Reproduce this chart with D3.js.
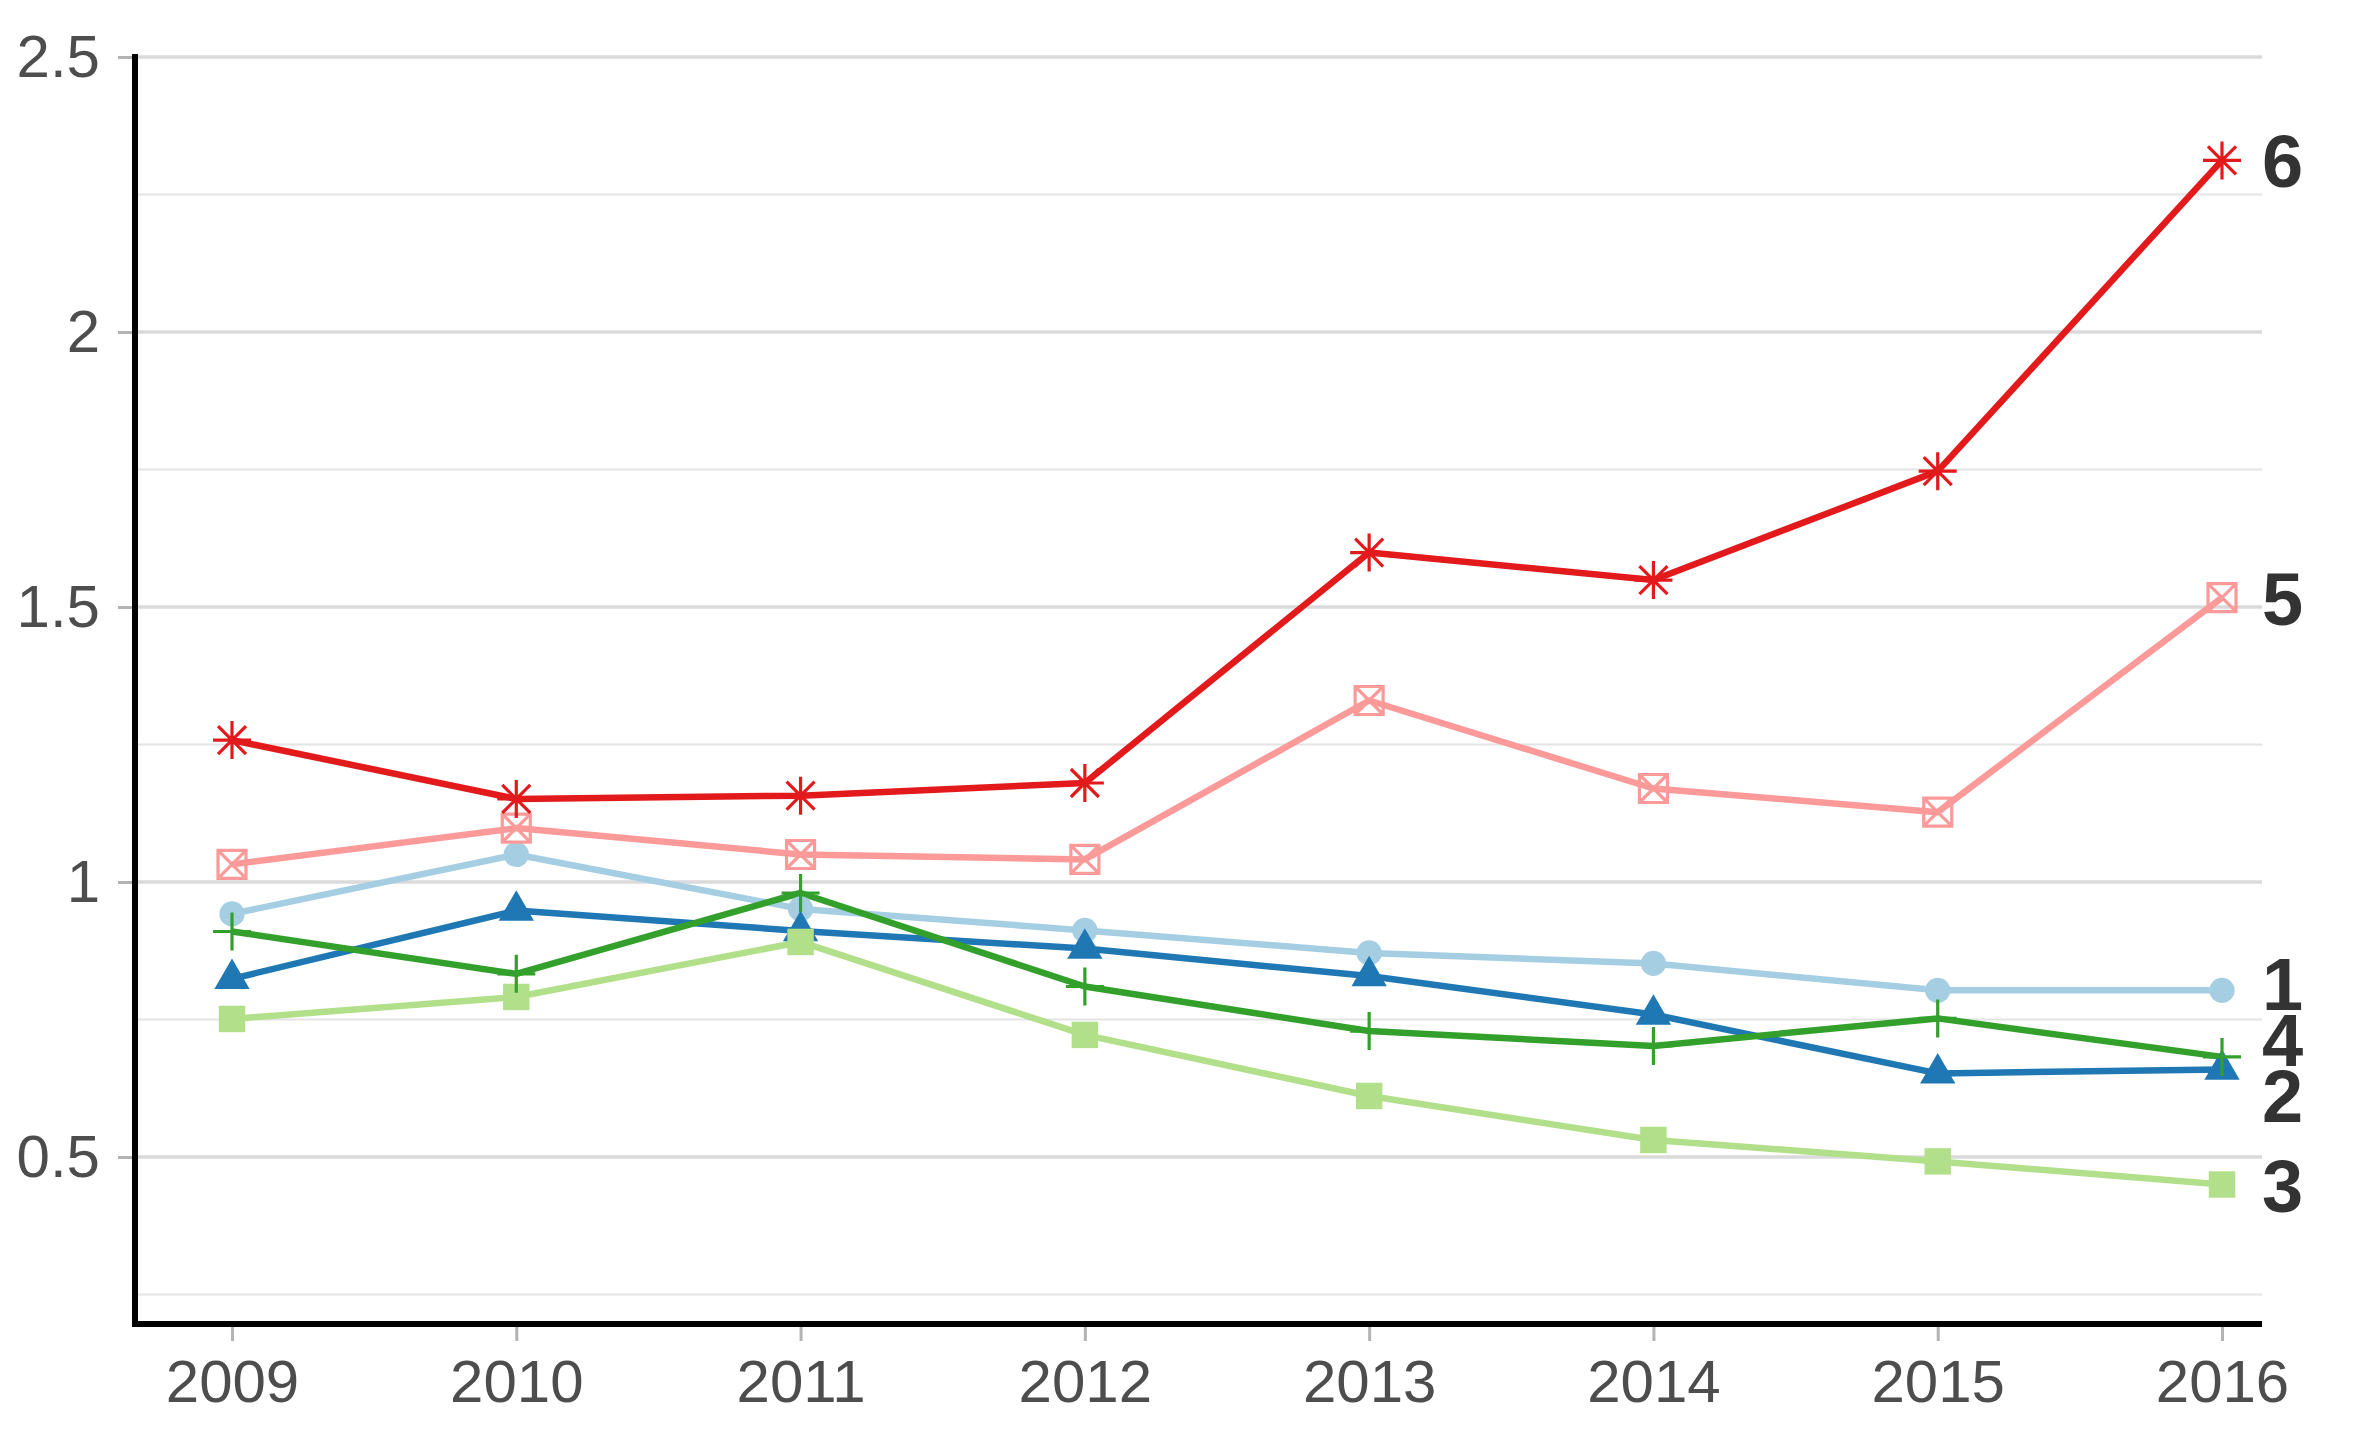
<!DOCTYPE html>
<html>
<head>
<meta charset="utf-8">
<script src="https://cdn.jsdelivr.net/npm/d3@7"></script>
<style>
body { margin: 0; background: #ffffff; }
svg { display: block; }
</style>
</head>
<body>
<svg></svg>
<script>
// the chart's values
var years = [2009, 2010, 2011, 2012, 2013, 2014, 2015, 2016];
var seriesNames = ["1", "2", "3", "4", "5", "6"];
var values1 = [0.942, 1.050, 0.951, 0.912, 0.871, 0.852, 0.803, 0.803];
var values2 = [0.824, 0.948, 0.911, 0.879, 0.829, 0.759, 0.652, 0.659];
var values3 = [0.751, 0.791, 0.891, 0.722, 0.611, 0.531, 0.492, 0.450];
var values4 = [0.910, 0.833, 0.980, 0.810, 0.729, 0.702, 0.752, 0.682];
var values5 = [1.032, 1.098, 1.050, 1.041, 1.330, 1.170, 1.127, 1.517];
var values6 = [1.258, 1.151, 1.157, 1.180, 1.599, 1.549, 1.747, 2.312];
var yTicks = [0.5, 1, 1.5, 2, 2.5];
var yMinorTicks = [0.25, 0.75, 1.25, 1.75, 2.25];
var colors = ["#A6CEE3", "#1F78B4", "#B2DF8A", "#33A02C", "#FB9A99", "#E31A1C"];
var shapes = ["circle", "triangle", "square", "plus", "boxx", "star"];

var screen = {width: 2361, height: 1436};
var panel = {left: 135, right: 2262, top: 57, bottom: 1324};

var allValues = [values1, values2, values3, values4, values5, values6];
var series = seriesNames.map(function(name, i)
{
    return {
        name: name,
        color: colors[i],
        shape: shapes[i],
        points: years.map(function(y, j) { return {year: y, value: allValues[i][j]}; })
    };
});

var svg = d3.select("svg")
    .attr("width", screen.width)
    .attr("height", screen.height);

var xscale = d3.scaleLinear()
    .domain([2009, 2016])
    .range([232, 2222]);

var yscale = d3.scaleLinear()
    .domain([0.2, 2.5])
    .range([1322, 57]);

//grid lines, minor first
svg.append("g")
    .selectAll("line")
    .data(yMinorTicks)
    .enter()
    .append("line")
    .attr("x1", panel.left)
    .attr("x2", panel.right)
    .attr("y1", function(d) { return yscale(d); })
    .attr("y2", function(d) { return yscale(d); })
    .style("stroke", "#e4e4e4")
    .style("stroke-width", 2);

svg.append("g")
    .selectAll("line")
    .data(yTicks)
    .enter()
    .append("line")
    .attr("x1", panel.left)
    .attr("x2", panel.right)
    .attr("y1", function(d) { return yscale(d); })
    .attr("y2", function(d) { return yscale(d); })
    .style("stroke", "#dadada")
    .style("stroke-width", 3.5);

// y axis
var yAxis = d3.axisLeft(yscale)
    .tickValues(yTicks)
    .tickSize(17)
    .tickPadding(18)
    .tickFormat(function(d) { return d3.format("")(d); });

var yAxisG = svg.append("g")
    .attr("transform", "translate(" + panel.left + ",0)")
    .call(yAxis);
yAxisG.select(".domain").remove();
yAxisG.selectAll(".tick line")
    .style("stroke", "#b3b3b3")
    .style("stroke-width", 3);
yAxisG.selectAll(".tick text")
    .style("font-family", "Arial, 'Liberation Sans', sans-serif")
    .style("font-size", "60px")
    .style("fill", "#4d4d4d");

// x axis
var xAxis = d3.axisBottom(xscale)
    .tickValues(years)
    .tickSize(17)
    .tickPadding(18)
    .tickFormat(d3.format("d"));

var xAxisG = svg.append("g")
    .attr("transform", "translate(0," + panel.bottom + ")")
    .call(xAxis);
xAxisG.select(".domain").remove();
xAxisG.selectAll(".tick line")
    .style("stroke", "#b3b3b3")
    .style("stroke-width", 3);
xAxisG.selectAll(".tick text")
    .style("font-family", "Arial, 'Liberation Sans', sans-serif")
    .style("font-size", "60px")
    .style("fill", "#4d4d4d");

// black axis lines
svg.append("line")
    .attr("x1", panel.left).attr("x2", panel.left)
    .attr("y1", panel.top - 3).attr("y2", panel.bottom + 3)
    .style("stroke", "#000").style("stroke-width", 6);
svg.append("line")
    .attr("x1", panel.left - 3).attr("x2", panel.right)
    .attr("y1", panel.bottom).attr("y2", panel.bottom)
    .style("stroke", "#000").style("stroke-width", 6);

// lines for every series
var line = d3.line()
    .x(function(d) { return xscale(d.year); })
    .y(function(d) { return yscale(d.value); });

svg.append("g")
    .selectAll("path")
    .data(series)
    .enter()
    .append("path")
    .attr("d", function(d) { return line(d.points); })
    .style("fill", "none")
    .style("stroke", function(d) { return d.color; })
    .style("stroke-width", 6.5)
    .style("stroke-linejoin", "round");

// marker paths, drawn around 0,0
var markerPath = function(shape)
{
    if (shape == "circle") { return d3.symbol(d3.symbolCircle, 500)(); }
    if (shape == "triangle") { return d3.symbol(d3.symbolTriangle, 540)(); }
    if (shape == "square") { return d3.symbol(d3.symbolSquare, 700)(); }
    if (shape == "plus") { return "M-19,0H19M0,-19V19"; }
    if (shape == "boxx") { return "M-14,-14H14V14H-14ZM-14,-14L14,14M14,-14L-14,14"; }
    // asterisk: plus with an x over it
    return "M-19,0H19M0,-19V19M-14,-14L14,14M14,-14L-14,14";
};

var filled = function(shape) { return shape == "circle" || shape == "triangle" || shape == "square"; };

series.forEach(function(s)
{
    svg.append("g")
        .selectAll("path")
        .data(s.points)
        .enter()
        .append("path")
        .attr("transform", function(d) { return "translate(" + xscale(d.year) + "," + yscale(d.value) + ")"; })
        .attr("d", markerPath(s.shape))
        .style("fill", filled(s.shape) ? s.color : "none")
        .style("stroke", filled(s.shape) ? "none" : s.color)
        .style("stroke-width", 3.2);
});

// end labels, pushed apart so they do not overlap
var labels = series.map(function(s)
{
    var last = s.points[s.points.length - 1];
    return {name: s.name, x: xscale(last.year) + 40, y: yscale(last.value)};
});
labels.sort(function(a, b) { return a.y - b.y; });
var gap = 56;
for (var k = 0; k < 200; k++)
{
    for (var i = 1; i < labels.length; i++)
    {
        var d = labels[i].y - labels[i - 1].y;
        if (d < gap)
        {
            var shift = (gap - d) / 2;
            labels[i - 1].y -= shift;
            labels[i].y += shift;
        }
    }
}

svg.append("g")
    .selectAll("text")
    .data(labels)
    .enter()
    .append("text")
    .attr("x", function(d) { return d.x; })
    .attr("y", function(d) { return d.y + 27; })
    .text(function(d) { return d.name; })
    .style("font-family", "Arial, 'Liberation Sans', sans-serif")
    .style("font-weight", "bold")
    .style("font-size", "74px")
    .style("fill", "#333333");
</script>
</body>
</html>
